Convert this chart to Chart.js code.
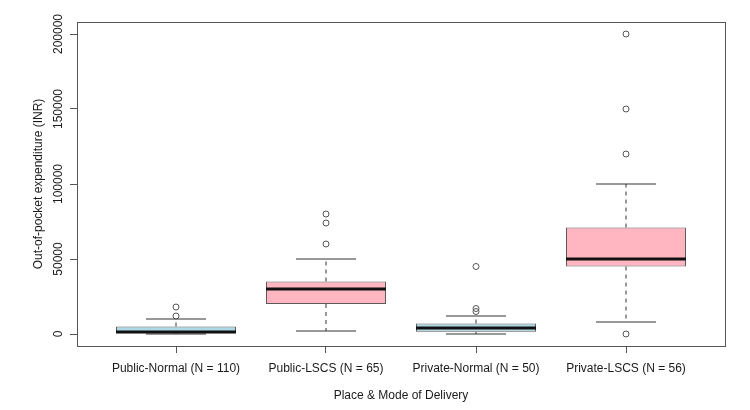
<!DOCTYPE html>
<html>
<head>
<meta charset="utf-8">
<script src="https://cdn.jsdelivr.net/npm/chart.js@4/dist/chart.umd.min.js"></script>
<style>
  html, body { margin: 0; padding: 0; background: #ffffff; }
  #c { display: block; }
</style>
</head>
<body>
<canvas id="c" width="750" height="410"></canvas>
<script>
// ---- Data ----
const categories = ['Public-Normal (N = 110)', 'Public-LSCS (N = 65)', 'Private-Normal (N = 50)', 'Private-LSCS (N = 56)'];
const lowerWhisker = [0, 2000, 0, 8000];
const q1 = [500, 20000, 1500, 45000];
const median = [1400, 30000, 4000, 50000];
const q3 = [5000, 35000, 7000, 71000];
const upperWhisker = [10000, 50000, 12000, 100000];
const outliers = [
  [12000, 18000],
  [60000, 74000, 80000],
  [15000, 17000, 45000],
  [0, 120000, 150000, 200000]
];
const yTicks = [0, 50000, 100000, 150000, 200000];

// ---- Styles ----
const boxFill = ['#ADD8E6', '#FFB6C1', '#ADD8E6', '#FFB6C1'];
const halfBox = 0.4;     // box half-width in category units
const halfStaple = 0.2;  // whisker cap half-width

// positions on the numeric x axis (category index 1..n)
const xPos = categories.map((_, i) => i + 1);

const boxData = xPos.map((x, i) => ({ x: x, y: [q1[i], q3[i]] }));

const medianSegs = [];
const dashSegs = [];
const stapleSegs = [];
xPos.forEach((x, i) => {
  medianSegs.push({ x: x - halfBox, y: median[i] }, { x: x + halfBox, y: median[i] }, { x: x, y: null });
  dashSegs.push({ x: x, y: q3[i] }, { x: x, y: upperWhisker[i] }, { x: x, y: null });
  dashSegs.push({ x: x, y: q1[i] }, { x: x, y: lowerWhisker[i] }, { x: x, y: null });
  stapleSegs.push({ x: x - halfStaple, y: upperWhisker[i] }, { x: x + halfStaple, y: upperWhisker[i] }, { x: x, y: null });
  stapleSegs.push({ x: x - halfStaple, y: lowerWhisker[i] }, { x: x + halfStaple, y: lowerWhisker[i] }, { x: x, y: null });
});
const outlierPts = [];
xPos.forEach((x, i) => outliers[i].forEach(v => outlierPts.push({ x: x, y: v })));

const framePlugin = {
  id: 'frame',
  beforeDraw(chart) {
    const ctx = chart.ctx;
    ctx.save();
    ctx.fillStyle = '#ffffff';
    ctx.fillRect(0, 0, chart.width, chart.height);
    ctx.restore();
  },
  afterDraw(chart) {
    const a = chart.chartArea;
    const ctx = chart.ctx;
    ctx.save();
    ctx.strokeStyle = '#555555';
    ctx.lineWidth = 1;
    ctx.strokeRect(Math.round(a.left) + 0.5, Math.round(a.top) + 0.5,
                   Math.round(a.right - a.left), Math.round(a.bottom - a.top));
    ctx.restore();
  }
};

new Chart(document.getElementById('c'), {
  type: 'bar',
  data: {
    datasets: [
      {
        type: 'bar',
        data: boxData,
        backgroundColor: boxFill,
        borderColor: '#5a5a5a',
        borderWidth: 1,
        borderSkipped: false,
        categoryPercentage: 1,
        barPercentage: 0.8,
        grouped: false,
        order: 3
      },
      {
        type: 'scatter',
        data: dashSegs,
        showLine: true,
        spanGaps: false,
        borderColor: '#333333',
        borderWidth: 1,
        borderDash: [4, 4],
        pointRadius: 0,
        order: 4
      },
      {
        type: 'scatter',
        data: stapleSegs,
        showLine: true,
        spanGaps: false,
        borderColor: '#333333',
        borderWidth: 1,
        pointRadius: 0,
        order: 2
      },
      {
        type: 'scatter',
        data: medianSegs,
        showLine: true,
        spanGaps: false,
        borderColor: '#111111',
        borderWidth: 3,
        pointRadius: 0,
        order: 1
      },
      {
        type: 'scatter',
        data: outlierPts,
        showLine: false,
        pointStyle: 'circle',
        pointRadius: 3,
        pointBorderWidth: 1,
        pointBorderColor: '#555555',
        pointBackgroundColor: 'rgba(0,0,0,0)',
        borderColor: '#555555',
        backgroundColor: 'rgba(0,0,0,0)',
        order: 0
      }
    ]
  },
  options: {
    responsive: false,
    animation: false,
    devicePixelRatio: 1,
    layout: { padding: { top: 22, right: 25, left: 0, bottom: 0 } },
    plugins: {
      legend: { display: false },
      tooltip: { enabled: false }
    },
    scales: {
      x: {
        type: 'linear',
        position: 'bottom',
        offset: false,
        min: 0.34,
        max: 4.66,
        afterBuildTicks: s => { s.ticks = xPos.map(v => ({ value: v })); },
        afterFit: s => { s.height = 64; },
        ticks: {
          callback: v => categories[v - 1],
          font: { family: 'Liberation Sans, Arial, sans-serif', size: 12 },
          color: '#1a1a1a',
          padding: 8,
          maxRotation: 0,
          minRotation: 0,
          autoSkip: false
        },
        grid: { display: true, offset: false, drawOnChartArea: false, drawTicks: true, tickLength: 7, color: '#555555', lineWidth: 1 },
        border: { display: false },
        title: {
          display: true,
          text: 'Place & Mode of Delivery',
          font: { family: 'Liberation Sans, Arial, sans-serif', size: 12 },
          color: '#1a1a1a',
          padding: { top: 0, bottom: 7 }
        }
      },
      y: {
        type: 'linear',
        min: -8000,
        max: 208000,
        afterBuildTicks: s => { s.ticks = yTicks.map(v => ({ value: v })); },
        afterFit: s => { s.width = 77; },
        ticks: {
          callback: v => String(v),
          font: { family: 'Liberation Sans, Arial, sans-serif', size: 12 },
          color: '#1a1a1a',
          minRotation: 90,
          maxRotation: 90,
          crossAlign: 'center',
          padding: -9
        },
        grid: { display: true, drawOnChartArea: false, drawTicks: true, tickLength: 7, color: '#555555', lineWidth: 1 },
        border: { display: false },
        title: {
          display: true,
          text: 'Out-of-pocket expenditure (INR)',
          font: { family: 'Liberation Sans, Arial, sans-serif', size: 12 },
          color: '#1a1a1a',
          padding: { top: 31, bottom: 0 }
        }
      }
    }
  },
  plugins: [framePlugin]
});
</script>
</body>
</html>
